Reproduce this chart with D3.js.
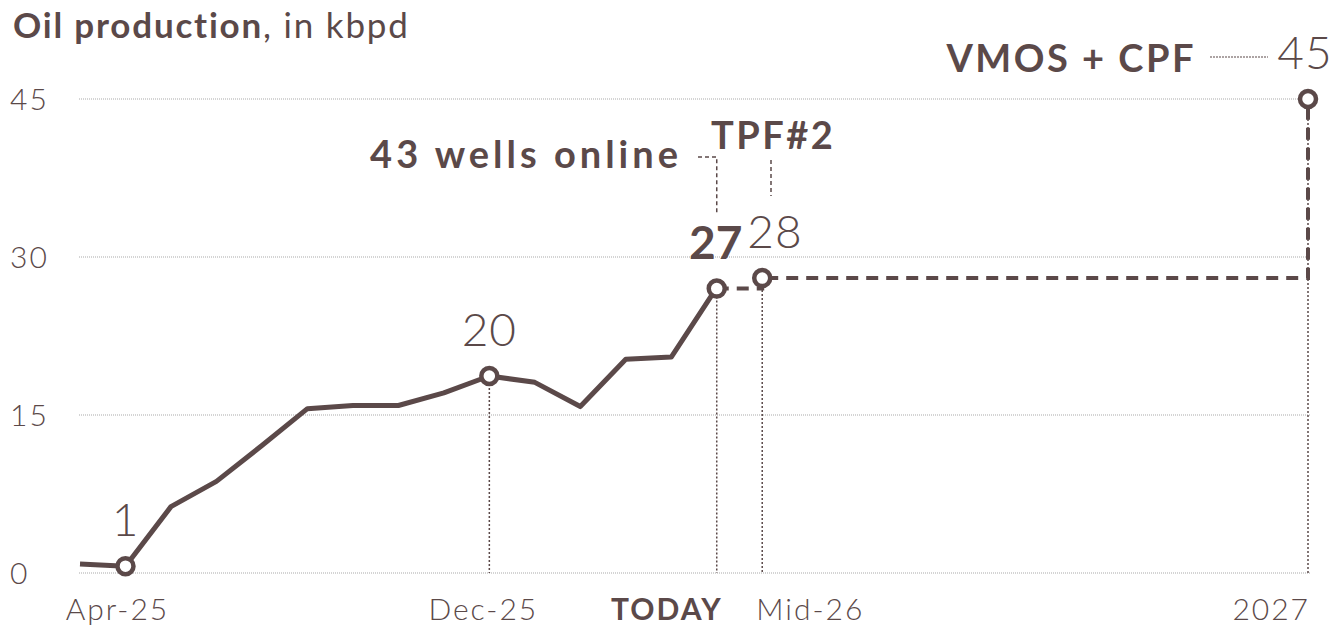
<!DOCTYPE html>
<html>
<head>
<meta charset="utf-8">
<script src="https://cdn.jsdelivr.net/npm/d3@7"></script>
<style>
  body { margin: 0; background: #fff; }
  svg { display: block; font-family: Lato, "Open Sans", sans-serif; }
</style>
</head>
<body>
<script>
// monthly actuals, Mar-25 .. May-26 (kbpd)
var months = ["Mar-25","Apr-25","May-25","Jun-25","Jul-25","Aug-25","Sep-25","Oct-25","Nov-25","Dec-25","Jan-26","Feb-26","Mar-26","Apr-26","May-26"];
var actual = [0.85, 0.65, 6.3, 8.7, 12.1, 15.6, 15.9, 15.9, 17.1, 18.7, 18.1, 15.8, 20.3, 20.5, 27.1];

// plan steps (month index from Mar-25)
var planIdx = [14, 15, 27];
var planVal = [27, 28, 45];

var yTicks = [0, 15, 30, 45];

// highlighted points
var markIdx = [1, 9, 14, 15, 27];
var markVal = [0.65, 18.7, 27, 28, 45];
var markTxt = ["1", "20", "27", "28", "45"];

// x labels
var xLabIdx = [1, 9, 14, 15, 27];
var xLabTxt = ["Apr-25", "Dec-25", "TODAY", "Mid-26", "2027"];

var W = 1336, H = 625;
var color = "#5b4949";

var svg = d3.select("body").append("svg")
    .attr("width", W)
    .attr("height", H);

var x = d3.scaleLinear().domain([0, 27]).range([80, 1308]);
var y = d3.scaleLinear().domain([0, 45]).range([573, 99]);

// grid
svg.append("g").selectAll("line")
  .data(yTicks)
  .enter().append("line")
    .attr("x1", 79).attr("x2", 1310)
    .attr("y1", d => y(d)).attr("y2", d => y(d))
    .attr("stroke", "#a9a9a9")
    .attr("stroke-width", 1)
    .attr("stroke-dasharray", "1,1");

svg.append("g").selectAll("text")
  .data(yTicks)
  .enter().append("text")
    .attr("x", 10)
    .attr("y", d => y(d))
    .attr("dy", "0.36em")
    .attr("fill", color)
    .attr("font-size", 30)
    .attr("font-weight", 300)
    .attr("letter-spacing", 2)
    .text(d => d);

// drop lines
svg.append("g").selectAll("line")
  .data(markIdx.slice(1))
  .enter().append("line")
    .attr("x1", d => x(d)).attr("x2", d => x(d))
    .attr("y1", (d, i) => y(markVal[i + 1])).attr("y2", y(0))
    .attr("stroke", color)
    .attr("stroke-width", 1.5)
    .attr("stroke-dasharray", "2,2");

// actual line
var line = d3.line().x((d, i) => x(i)).y(d => y(d));
svg.append("path")
  .datum(actual)
  .attr("d", line)
  .attr("fill", "none")
  .attr("stroke", color)
  .attr("stroke-width", 5)
  .attr("stroke-linejoin", "round");

// plan steps
var stepLine = d3.line().curve(d3.curveStepAfter).x(d => x(d[0])).y(d => y(d[1]));
svg.append("path")
  .datum(d3.zip(planIdx, planVal))
  .attr("d", stepLine)
  .attr("fill", "none")
  .attr("stroke", color)
  .attr("stroke-width", 4)
  .attr("stroke-dasharray", "12,8");

// markers
svg.append("g").selectAll("circle")
  .data(markIdx)
  .enter().append("circle")
    .attr("cx", d => x(d))
    .attr("cy", (d, i) => y(markVal[i]))
    .attr("r", 8)
    .attr("fill", "#fff")
    .attr("stroke", color)
    .attr("stroke-width", 4.5);

// value labels
var anchors = ["middle", "middle", "middle", "start", "middle"];
var dxs = [0, 0, -1, -15, -3];
svg.append("g").selectAll("text")
  .data(markTxt)
  .enter().append("text")
    .attr("x", (d, i) => x(markIdx[i]) + dxs[i])
    .attr("y", (d, i) => y(markVal[i]) - 30)
    .attr("text-anchor", (d, i) => anchors[i])
    .attr("font-size", 46)
    .attr("font-weight", (d, i) => i == 2 ? 700 : 300)
    .attr("letter-spacing", (d, i) => i == 2 ? 0 : 1)
    .attr("fill", color)
    .text(d => d);

// x labels
var xAnch = ["middle", "middle", "end", "start", "end"];
var xDx = [-8, -6, 6, -6, 2];
svg.append("g").selectAll("text")
  .data(xLabTxt)
  .enter().append("text")
    .attr("x", (d, i) => x(xLabIdx[i]) + xDx[i])
    .attr("y", 620)
    .attr("text-anchor", (d, i) => xAnch[i])
    .attr("font-size", 30)
    .attr("font-weight", (d, i) => i == 2 ? 700 : 300)
    .attr("letter-spacing", 2)
    .attr("fill", color)
    .text(d => d);

// title
var title = svg.append("text")
  .attr("x", 13).attr("y", 38)
  .attr("font-size", 35)
  .attr("letter-spacing", 1.8)
  .attr("fill", color);
title.append("tspan").attr("font-weight", 700).text("Oil production");
title.append("tspan").attr("font-weight", 400).text(", in kbpd");

// annotations
function bold(txt, xp, yp, anchor, ls) {
  return svg.append("text")
    .attr("x", xp).attr("y", yp)
    .attr("text-anchor", anchor)
    .attr("font-size", 38)
    .attr("font-weight", 700)
    .attr("letter-spacing", ls)
    .attr("fill", color)
    .text(txt);
}
bold("VMOS + CPF", 1196, 72, "end", 2.5);
bold("43 wells online", 682, 168, "end", 4);
bold("TPF#2", 711, 149, "start", 2.5);

svg.append("line")
  .attr("x1", 1210).attr("x2", 1268).attr("y1", 57).attr("y2", 57)
  .attr("stroke", color).attr("stroke-width", 1.2).attr("stroke-dasharray", "2,1");

svg.append("path")
  .attr("d", "M698,157H" + x(14) + "V214")
  .attr("fill", "none")
  .attr("stroke", color).attr("stroke-width", 1.5).attr("stroke-dasharray", "4,3");

svg.append("line")
  .attr("x1", 771).attr("x2", 771).attr("y1", 160).attr("y2", 196)
  .attr("stroke", color).attr("stroke-width", 1.5).attr("stroke-dasharray", "4,3");
</script>
</body>
</html>
